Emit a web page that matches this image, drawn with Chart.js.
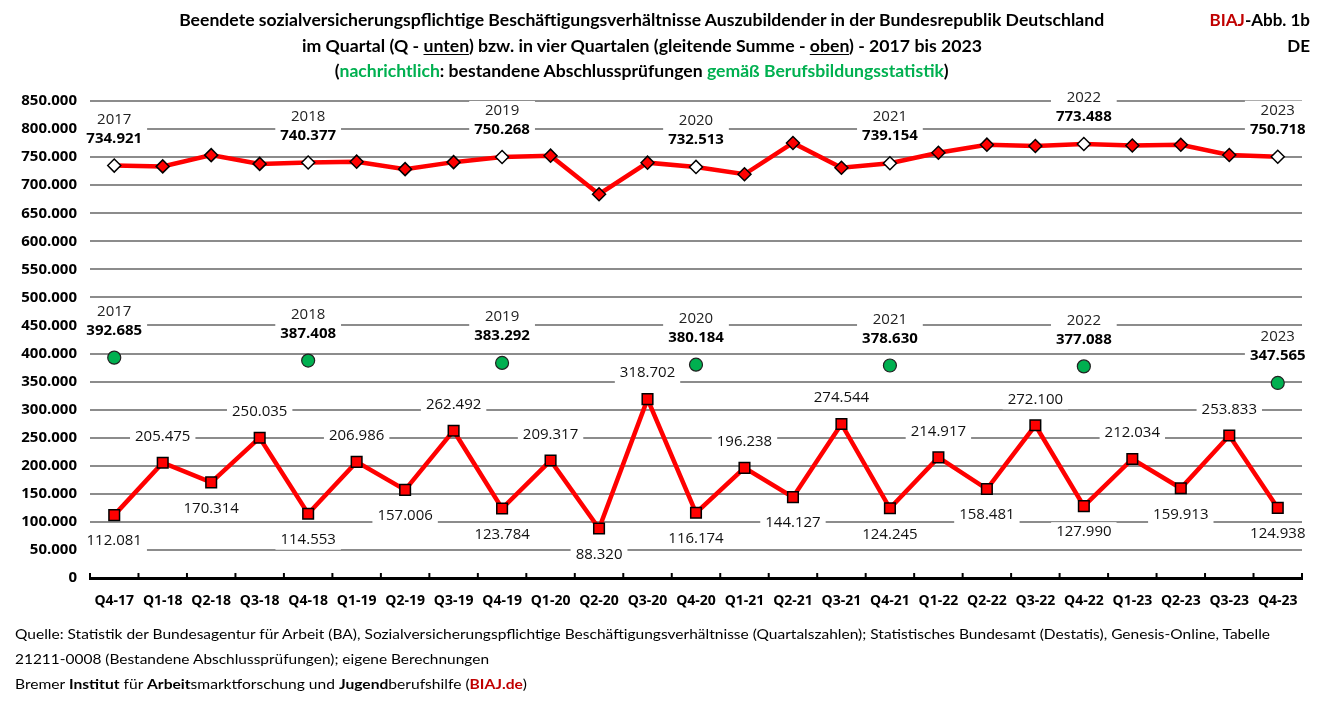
<!DOCTYPE html>
<html>
<head>
<meta charset="utf-8">
<script src="https://cdn.jsdelivr.net/npm/chart.js@4/dist/chart.umd.min.js"></script>
<style>
html,body{margin:0;padding:0;background:#fff;width:1323px;height:702px;overflow:hidden;}
#wrap{position:relative;width:1323px;height:702px;}
canvas{position:absolute;left:0;top:0;}
.t{position:absolute;white-space:nowrap;font-family:Lato,'Open Sans',sans-serif;font-weight:bold;font-size:17px;line-height:20px;color:#000;}
.c{left:42px;width:1200px;text-align:center;}
.fit{display:inline-block;transform-origin:50% 50%;}
.f{position:absolute;left:15px;white-space:nowrap;font-family:Lato,'Open Sans',sans-serif;font-size:14px;line-height:20px;color:#000;}
.f .fit{transform-origin:0 50%;}
.g{color:#00b050;}
.r{color:#c00000;}
u{text-decoration:underline;text-underline-offset:2px;}
</style>
</head>
<body>
<div id="wrap">
<canvas id="chart" width="1323" height="702"></canvas>
<div class="t c" style="top:10px"><span class="fit" data-w="925">Beendete sozialversicherungspflichtige Beschäftigungsverhältnisse Auszubildender in der Bundesrepublik Deutschland</span></div>
<div class="t c" style="top:36px"><span class="fit" data-w="680">im Quartal (Q - <u>unten</u>) bzw. in vier Quartalen (gleitende Summe - <u>oben</u>) - 2017 bis 2023</span></div>
<div class="t c" style="top:61px"><span class="fit" data-w="614">(<span class="g">nachrichtlich</span>: bestandene Abschlussprüfungen <span class="g">gemäß Berufsbildungsstatistik</span>)</span></div>
<div class="t" style="top:10px;right:13px;text-align:right"><span class="r">BIAJ</span>-Abb. 1b</div>
<div class="t" style="top:36px;right:13px;text-align:right">DE</div>
<div class="f" style="top:624px"><span class="fit" data-w="1255">Quelle: Statistik der Bundesagentur für Arbeit (BA), Sozialversicherungspflichtige Beschäftigungsverhältnisse (Quartalszahlen); Statistisches Bundesamt (Destatis), Genesis-Online, Tabelle</span></div>
<div class="f" style="top:649px"><span class="fit" data-w="474">21211-0008 (Bestandene Abschlussprüfungen); eigene Berechnungen</span></div>
<div class="f" style="top:674px"><span class="fit" data-w="512">Bremer <b>Institut</b> für <b>Arbeit</b>smarktforschung und <b>Jugend</b>berufshilfe (<b class="r">BIAJ.de</b>)</span></div>
</div>
<script>
// ---- data ----
const categories = ['Q4-17','Q1-18','Q2-18','Q3-18','Q4-18','Q1-19','Q2-19','Q3-19','Q4-19','Q1-20','Q2-20','Q3-20','Q4-20','Q1-21','Q2-21','Q3-21','Q4-21','Q1-22','Q2-22','Q3-22','Q4-22','Q1-23','Q2-23','Q3-23','Q4-23'];
const rollingSum = [734921, 733500, 753500, 737905, 740377, 741888, 728580, 741037, 750268, 752599, 683913, 740123, 732513, 719434, 775241, 731083, 739154, 757833, 772187, 769743, 773488, 770605, 772037, 753770, 750718];
const quarterly = [112081, 205475, 170314, 250035, 114553, 206986, 157006, 262492, 123784, 209317, 88320, 318702, 116174, 196238, 144127, 274544, 124245, 214917, 158481, 272100, 127990, 212034, 159913, 253833, 124938];
const examYears = ['2017','2018','2019','2020','2021','2022','2023'];
const examPassed = [392685, 387408, 383292, 380184, 378630, 377088, 347565];
const yTicks = {min: 0, max: 850000, step: 50000};

// fit text widths
document.querySelectorAll('.fit').forEach(el => {
  const w = el.getBoundingClientRect().width;
  const target = +el.dataset.w;
  if (w > 0) el.style.transform = 'scaleX(' + (target / w) + ')';
});

const fmt = v => String(Math.round(v)).replace(/\B(?=(\d{3})+(?!\d))/g, '.');
const isQ4 = c => c.startsWith('Q4');
const q4Index = categories.map((c, i) => isQ4(c) ? i : -1).filter(i => i >= 0);
const examData = categories.map(() => null);
q4Index.forEach((idx, k) => { examData[idx] = examPassed[k]; });
const yearOf = c => '20' + c.split('-')[1];

function drawLabelBox(ctx, lines, cx, cy) {
  let maxW = 0;
  lines.forEach(l => { ctx.font = l.font; maxW = Math.max(maxW, ctx.measureText(l.text).width); });
  const top = cy + lines[0].dy - 10;
  const bottom = cy + lines[lines.length - 1].dy + 10;
  ctx.fillStyle = '#fff';
  ctx.fillRect(cx - maxW / 2 - 5, top, maxW + 10, bottom - top);
  ctx.textAlign = 'center';
  ctx.textBaseline = 'middle';
  lines.forEach(l => { ctx.font = l.font; ctx.fillStyle = l.color; ctx.fillText(l.text, cx, cy + l.dy); });
}

const labelPlugin = {
  id: 'valueLabels',
  beforeDatasetsDraw(chart) {
    const ctx = chart.ctx;
    ctx.save();
    const fN = '15px "Open Sans"';
    const fB = 'bold 15px "Open Sans"';
    // quarterly labels
    const m1 = chart.getDatasetMeta(1);
    m1.data.forEach((p, i) => {
      const c = categories[i];
      const above = c.startsWith('Q1') || c.startsWith('Q3');
      drawLabelBox(ctx, [{text: fmt(quarterly[i]), font: fN, color: '#111', dy: above ? -26 : 26}], p.x, p.y);
    });
    // rolling sum labels at Q4
    const m0 = chart.getDatasetMeta(0);
    q4Index.forEach(i => {
      const p = m0.data[i];
      drawLabelBox(ctx, [
        {text: yearOf(categories[i]), font: fN, color: '#222', dy: -46},
        {text: fmt(rollingSum[i]), font: fB, color: '#000', dy: -27}
      ], p.x, p.y);
    });
    // exam labels
    const m2 = chart.getDatasetMeta(2);
    q4Index.forEach((i, k) => {
      const p = m2.data[i];
      drawLabelBox(ctx, [
        {text: examYears[k], font: fN, color: '#222', dy: -46},
        {text: fmt(examPassed[k]), font: fB, color: '#000', dy: -27}
      ], p.x, p.y);
    });
    ctx.restore();
  }
};

const tickPlugin = {
  id: 'upTicks',
  afterDraw(chart) {
    const {ctx, chartArea} = chart;
    const n = categories.length;
    ctx.save();
    ctx.strokeStyle = '#000';
    ctx.lineWidth = 2;
    for (let i = 0; i <= n; i++) {
      const x = chartArea.left + i * (chartArea.right - chartArea.left) / n;
      ctx.beginPath();
      ctx.moveTo(x, chartArea.bottom);
      ctx.lineTo(x, chartArea.bottom - 5);
      ctx.stroke();
    }
    ctx.restore();
  }
};

new Chart(document.getElementById('chart'), {
  type: 'line',
  data: {
    labels: categories,
    datasets: [
      {label: 'gleitende Summe', data: rollingSum, borderColor: '#ff0000', borderWidth: 4.5, tension: 0,
       pointStyle: 'rectRot', pointRadius: 6.5, pointBackgroundColor: categories.map(c => isQ4(c) ? '#ffffff' : '#ff0000'),
       pointBorderColor: '#000', pointBorderWidth: 1.5, order: 2},
      {label: 'Quartal', data: quarterly, borderColor: '#ff0000', borderWidth: 4.5, tension: 0,
       pointStyle: 'rect', pointRadius: 7.5, pointBackgroundColor: '#ff0000',
       pointBorderColor: '#000', pointBorderWidth: 1.5, order: 2},
      {label: 'bestandene Abschlussprüfungen', data: examData, showLine: false,
       pointStyle: 'circle', pointRadius: 6.5, pointBackgroundColor: '#00b050',
       pointBorderColor: '#222', pointBorderWidth: 1.2, order: 1}
    ]
  },
  options: {
    responsive: false,
    animation: false,
    devicePixelRatio: 1,
    layout: {padding: {left: 0, right: 21, top: 101, bottom: 88}},
    plugins: {legend: {display: false}, tooltip: {enabled: false}, title: {display: false}},
    scales: {
      x: {
        offset: true,
        grid: {display: false, drawTicks: false, offset: true},
        border: {display: true, color: '#000', width: 3},
        ticks: {padding: 15, color: '#000', autoSkip: false, maxRotation: 0,
                font: {family: 'Open Sans', size: 14, weight: 'bold'}},
        afterFit(s) { s.height = 36; }
      },
      y: {
        min: yTicks.min, max: yTicks.max,
        ticks: {stepSize: yTicks.step, padding: 13, color: '#000',
                font: {family: 'Open Sans', size: 15, weight: 'bold'},
                callback: v => fmt(v)},
        grid: {color: c => c.tick && c.tick.value === 0 ? 'rgba(0,0,0,0)' : '#8c8c8c', lineWidth: 2, drawTicks: false},
        border: {display: false},
        afterFit(s) { s.width = 90; }
      }
    }
  },
  plugins: [labelPlugin, tickPlugin]
});
</script>
</body>
</html>
